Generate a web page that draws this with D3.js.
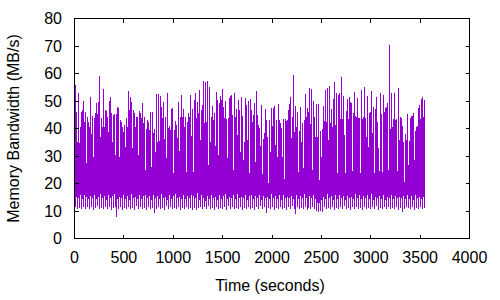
<!DOCTYPE html>
<html><head><meta charset="utf-8">
<script src="https://cdn.jsdelivr.net/npm/d3@7"></script>
<style>html,body{margin:0;padding:0;background:#fff}svg{display:block}</style>
</head><body><svg id="c" width="500" height="300"></svg>
<script>
// ---- data ----
const xTicks = [0, 500, 1000, 1500, 2000, 2500, 3000, 3500, 4000];
const yTicks = [0, 10, 20, 30, 40, 50, 60, 70, 80];
const xLabel = "Time (seconds)";
const yLabel = "Memory Bandwidth (MB/s)";
// sampling: one envelope sample every ~10.13 s, first visible at ~10 s
const sampleInterval = 10.1266;

// upper envelope of the bandwidth trace (MB/s)
const peakBandwidth = [
55.8,46.1,35.2,52.8,34.6,40.7,46.1,46.7,50.0,42.5,46.1,27.6,44.1,42.5,40.7,51.6,38.0,44.5,29.5,43.8,
45.5,49.2,45.3,49.8,59.1,37.0,43.7,40.4,54.2,40.7,46.7,46.5,44.3,38.8,50.1,51.3,45.5,35.2,44.9,45.3,
30.4,45.3,47.9,47.3,29.5,43.1,42.5,40.4,38.8,41.3,33.4,43.7,40.4,53.8,46.7,51.6,49.6,32.8,46.7,45.8,
40.4,44.1,44.3,30.4,46.5,45.5,43.7,49.2,42.1,44.3,24.9,39.7,43.1,42.5,39.5,46.1,26.1,46.1,38.5,39.7,
31.6,52.5,35.2,52.5,35.6,51.8,
47.9,43.9,49.8,36.2,44.3,29.2,53.0,40.1,41.0,39.5,47.1,47.3,23.7,39.5,42.8,41.3,36.4,49.8,31.9,44.1,
52.2,44.1,47.0,40.4,44.3,24.3,42.5,45.5,44.3,52.2,37.3,47.0,24.3,50.4,53.0,43.9,49.8,45.5,54.0,35.8,
46.7,48.5,57.4,41.9,57.0,42.5,57.4,26.7,55.2,35.2,44.1,48.2,43.1,45.8,33.6,53.4,50.4,30.4,49.2,51.8,
50.4,54.2,47.9,43.8,50.1,43.3,29.2,43.7,51.0,51.8,52.2,44.9,24.9,52.8,44.1,47.0,37.6,50.4,46.7,31.6,
51.3,44.5,28.5,35.2,51.0,48.5,35.8,50.1,
23.7,50.6,46.7,42.5,44.9,49.2,27.9,53.6,44.9,41.3,40.1,33.6,48.5,23.5,36.2,38.5,47.0,43.1,36.8,20.3,
43.1,31.6,47.3,40.9,47.3,48.3,34.0,43.1,29.8,48.9,43.1,42.1,40.1,29.5,43.3,21.5,43.5,42.7,43.1,46.7,
48.9,51.3,36.4,44.1,59.5,38.8,48.2,40.4,46.1,24.3,39.2,47.9,35.2,42.1,25.5,43.1,52.5,44.3,47.3,46.1,
54.6,41.6,54.2,24.9,50.0,44.3,37.0,48.9,37.0,48.9,21.3,39.2,29.5,39.7,48.2,42.7,54.0,42.5,54.6,35.8,
55.5,41.9,47.0,40.4,50.6,57.0,41.3,53.0,
23.7,52.2,53.0,43.3,58.6,43.3,51.8,37.6,23.7,46.5,50.6,43.3,51.3,49.8,49.2,24.7,45.5,53.4,44.5,44.1,
51.0,43.7,43.7,23.9,54.0,43.3,44.3,55.2,43.7,37.0,51.8,33.4,45.5,46.1,53.6,38.2,47.9,23.7,47.0,51.6,
42.5,32.8,24.7,52.8,45.3,24.3,52.2,46.1,47.3,47.9,49.2,24.9,70.4,39.7,52.8,40.4,43.3,53.0,43.1,43.3,
24.7,54.6,35.8,44.1,43.7,40.9,35.2,20.7,38.0,35.8,45.3,26.7,35.6,43.7,44.5,44.5,45.5,28.5,39.2,40.4,
40.9,47.3,48.5,43.3,50.6,51.6,44.0,50.5
];

// lower envelope of the bandwidth trace (MB/s)
const troughBandwidth = [
11.5,15.2,10.8,14.6,11.2,15.8,10.9,14.4,11.4,16.0,
10.6,15.1,11.3,14.2,10.9,15.5,11.6,14.8,10.5,15.9,
11.1,14.3,11.7,15.0,10.8,16.2,11.2,14.7,10.6,15.4,
11.5,14.1,10.9,15.7,11.3,14.9,10.4,15.3,11.0,16.1,
11.6,8.0,14.5,10.8,15.2,11.4,14.6,10.2,15.8,11.1,
14.3,10.7,15.6,11.5,14.0,10.9,16.3,11.2,14.8,10.5,
15.1,11.8,14.4,10.6,15.9,11.3,14.2,10.9,15.4,11.0,
16.0,10.4,14.7,11.6,15.3,10.8,14.1,11.2,15.7,9.2,
14.9,10.7,15.5,11.4,14.3,10.9,16.1,11.1,14.6,10.5,
15.2,11.7,14.0,10.8,15.8,11.3,14.4,10.6,15.6,11.0,
16.2,10.9,14.8,11.5,15.0,10.3,14.5,11.2,15.9,10.7,
14.2,11.6,15.4,10.8,14.9,11.1,16.0,
10.5,15.3,11.2,14.6,10.2,16.4,11.0,14.1,11.5,15.7,
10.8,14.9,11.3,13.8,10.6,15.6,11.7,14.4,10.9,16.0,
11.2,14.7,10.4,15.2,11.6,14.0,10.8,15.9,11.1,14.5,
10.7,15.4,11.4,16.1,10.5,14.3,11.8,15.0,10.9,14.8,
11.3,15.7,10.6,14.2,11.0,16.3,10.8,14.9,11.5,15.1,
10.3,14.6,11.2,15.8,10.7,14.1,11.6,15.5,10.9,16.0,
11.1,14.4,10.5,15.3,11.4,14.7,10.8,15.9,11.7,14.0,
10.6,15.6,11.3,14.8,9.2,15.2,11.0,14.3,10.7,16.2,
11.5,14.9,10.4,15.4,11.2,14.5,10.9,15.7,11.6,14.1,
10.8,16.0,11.1,14.6,10.5,15.1,11.4,14.8,10.7,15.5,
11.8,14.2,10.9,9.0,15.9,11.3,14.4,10.6,15.3,11.0,
14.7,10.8,16.1,11.5,14.9,10.4,
11.2,15.4,10.7,14.6,11.5,15.9,10.9,14.2,9.9,13.0,
9.8,12.9,10.0,14.0,9.7,15.1,11.3,14.5,10.6,16.2,
11.0,14.8,10.8,15.5,11.6,14.1,10.5,15.8,11.2,14.4,
10.9,16.0,11.4,14.7,10.6,15.3,11.7,14.0,10.8,15.6,
11.1,14.9,10.4,15.2,11.5,14.3,10.7,16.1,11.3,14.6,
10.9,15.7,11.0,14.2,10.5,15.4,11.6,14.8,10.8,15.9,
11.2,14.5,10.6,16.3,11.4,14.1,10.9,15.0,11.7,14.7,
10.3,15.5,11.1,14.4,10.8,15.8,11.5,14.0,10.6,15.2,
11.3,14.9,10.7,16.0,11.0,14.3,10.9,15.6,11.6,14.6,
10.5,15.1,11.2,14.8,9.5,15.4,10.8,14.2,11.4,15.9,
11.0,14.5,10.7,15.3,11.5,14.0,10.4,15.7,11.2,14.6,
10.9,15.0,11.3,14.4,10.6,15.2,11.0
];

// ---- drawing ----
const n = Math.min(peakBandwidth.length, troughBandwidth.length);
const times = d3.range(n).map(i => (i + 1) * sampleInterval);

const svg = d3.select('#c');
const font = '"Liberation Sans", Arial, Helvetica, sans-serif';
const x = d3.scaleLinear().domain([0, 4000]).range([74.5, 469.5]);
const y = d3.scaleLinear().domain([0, 80]).range([238.5, 18.5]);

// each sample drawn as the vertical trace stroke spanning trough..peak
svg.append('g').attr('fill', '#9400d3').attr('shape-rendering', 'crispEdges')
  .selectAll('rect').data(d3.range(n)).join('rect')
  .attr('x', i => Math.round(x(times[i] - sampleInterval / 2)))
  .attr('width', i => Math.max(1, Math.round(x(times[i] + sampleInterval / 2)) - Math.round(x(times[i] - sampleInterval / 2))))
  .attr('y', i => Math.round(y(peakBandwidth[i])))
  .attr('height', i => Math.round(y(troughBandwidth[i])) - Math.round(y(peakBandwidth[i])));

const g = svg.append('g').attr('stroke', '#000').attr('stroke-width', 1)
  .attr('shape-rendering', 'crispEdges').attr('fill', 'none');
const [x0, x1] = x.range();
const [yb, yt] = y.range();
const tl = 4;
xTicks.forEach(v => {
  g.append('line').attr('x1', x(v)).attr('x2', x(v)).attr('y1', yb).attr('y2', yb - tl);
  g.append('line').attr('x1', x(v)).attr('x2', x(v)).attr('y1', yt).attr('y2', yt + tl);
});
yTicks.forEach(v => {
  g.append('line').attr('x1', x0).attr('x2', x0 + tl).attr('y1', y(v)).attr('y2', y(v));
  g.append('line').attr('x1', x1).attr('x2', x1 - tl).attr('y1', y(v)).attr('y2', y(v));
});
g.append('rect').attr('x', x0).attr('y', yt).attr('width', x1 - x0).attr('height', yb - yt);

const txt = svg.append('g').attr('font-family', font).attr('font-size', 16).attr('fill', '#000');
xTicks.forEach(v => {
  txt.append('text').attr('x', x(v)).attr('y', 262.5).attr('text-anchor', 'middle').text(v);
});
yTicks.forEach(v => {
  txt.append('text').attr('x', 62).attr('y', y(v) + 5.7).attr('text-anchor', 'end').text(v);
});
txt.append('text').attr('x', (x0 + x1) / 2 - 2).attr('y', 290.5).attr('text-anchor', 'middle').text(xLabel);
txt.append('text').attr('transform', `translate(18.5,${(yb + yt) / 2}) rotate(-90)`)
  .attr('text-anchor', 'middle').text(yLabel);
</script>
</body></html>
